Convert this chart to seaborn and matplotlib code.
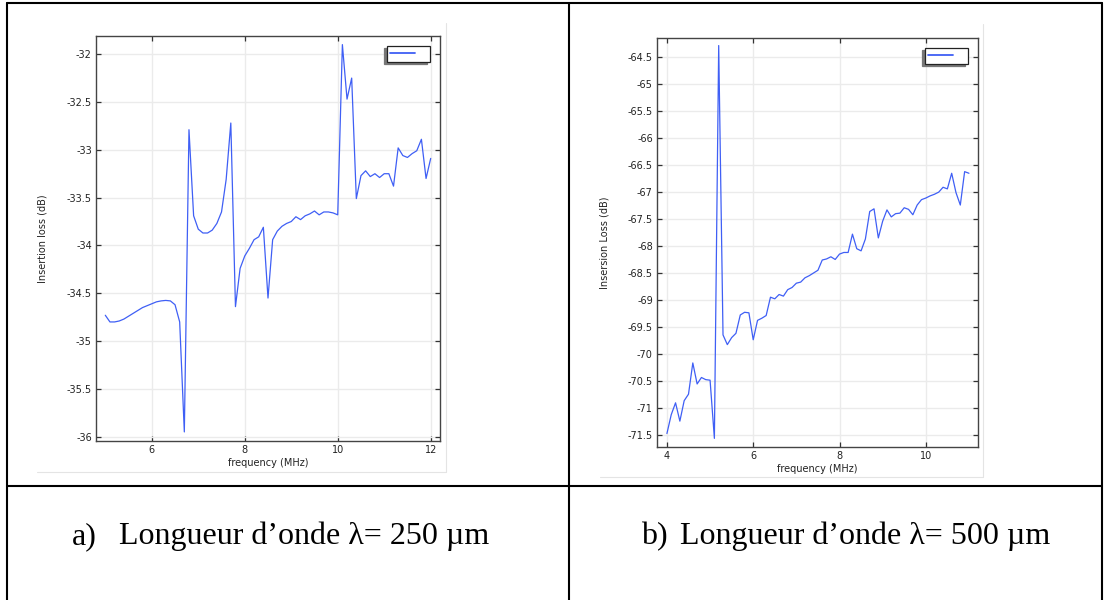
import numpy as np
import pandas as pd
import matplotlib
matplotlib.use("Agg")
import matplotlib.pyplot as plt
from matplotlib.lines import Line2D
from matplotlib.ticker import FuncFormatter, MultipleLocator
import seaborn as sns

# 数据: 左图 λ=250 µm
freq_a = [5.0, 5.1, 5.2, 5.3, 5.4, 5.5, 5.6, 5.7, 5.8, 5.9,
          6.0, 6.1, 6.2, 6.3, 6.4, 6.5, 6.6, 6.7, 6.8, 6.9,
          7.0, 7.1, 7.2, 7.3, 7.4, 7.5, 7.6, 7.7, 7.8, 7.9,
          8.0, 8.1, 8.2, 8.3, 8.4, 8.5, 8.6, 8.7, 8.8, 8.9,
          9.0, 9.1, 9.2, 9.3, 9.4, 9.5, 9.6, 9.7, 9.8, 9.9,
          10.0, 10.1, 10.2, 10.3, 10.4, 10.5, 10.6, 10.7, 10.8, 10.9,
          11.0, 11.1, 11.2, 11.3, 11.4, 11.5, 11.6, 11.7, 11.8, 11.9, 12.0]
loss_a = [-34.73, -34.80, -34.80, -34.79, -34.77, -34.74, -34.71, -34.68, -34.65, -34.63,
          -34.61, -34.59, -34.58, -34.575, -34.58, -34.62, -34.80, -35.95, -32.79, -33.69,
          -33.83, -33.87, -33.87, -33.84, -33.77, -33.65, -33.31, -32.72, -34.64, -34.24,
          -34.11, -34.03, -33.94, -33.91, -33.81, -34.55, -33.94, -33.85, -33.80, -33.77,
          -33.75, -33.70, -33.73, -33.69, -33.67, -33.64, -33.68, -33.65, -33.65, -33.66,
          -33.68, -31.90, -32.47, -32.25, -33.51, -33.27, -33.22, -33.28, -33.25, -33.29,
          -33.25, -33.25, -33.38, -32.98, -33.06, -33.08, -33.04, -33.01, -32.89, -33.30, -33.09]

# 数据: 右图 λ=500 µm
freq_b = [4.0, 4.1, 4.2, 4.3, 4.4, 4.5, 4.6, 4.7, 4.8, 4.9,
          5.0, 5.1, 5.2, 5.3, 5.4, 5.5, 5.6, 5.7, 5.8, 5.9,
          6.0, 6.1, 6.2, 6.3, 6.4, 6.5, 6.6, 6.7, 6.8, 6.9,
          7.0, 7.1, 7.2, 7.3, 7.4, 7.5, 7.6, 7.7, 7.8, 7.9,
          8.0, 8.1, 8.2, 8.3, 8.4, 8.5, 8.6, 8.7, 8.8, 8.9,
          9.0, 9.1, 9.2, 9.3, 9.4, 9.5, 9.6, 9.7, 9.8, 9.9,
          10.0, 10.1, 10.2, 10.3, 10.4, 10.5, 10.6, 10.7, 10.8, 10.9, 11.0]
loss_b = [-71.48, -71.13, -70.91, -71.25, -70.87, -70.75, -70.17, -70.56, -70.44, -70.48,
          -70.49, -71.57, -64.28, -69.65, -69.83, -69.70, -69.62, -69.28, -69.23, -69.24,
          -69.74, -69.38, -69.34, -69.29, -68.95, -68.98, -68.90, -68.93, -68.81, -68.77,
          -68.69, -68.67, -68.59, -68.55, -68.50, -68.45, -68.26, -68.24, -68.20, -68.25,
          -68.15, -68.12, -68.12, -67.78, -68.05, -68.09, -67.87, -67.36, -67.31, -67.85,
          -67.54, -67.33, -67.46, -67.40, -67.39, -67.29, -67.32, -67.42, -67.24, -67.14,
          -67.11, -67.07, -67.04, -67.00, -66.91, -66.94, -66.65, -67.01, -67.24, -66.62, -66.65]

captions = [("a)", "Longueur d\u2019onde \u03bb= 250 \u00b5m"),
            ("b)", "Longueur d\u2019onde \u03bb= 500 \u00b5m")]

sns.set_style("whitegrid")
plt.rcParams['font.family'] = ['DejaVu Sans']
plt.rcParams['axes.unicode_minus'] = False

LINE_COLOR = '#3f5ff5'
W, H = 1105, 600

fig = plt.figure(figsize=(W / 100, H / 100), dpi=100)
fig.patch.set_facecolor('white')


def px_box(left, top, right, bottom):
    return [left / W, 1 - bottom / H, (right - left) / W, (bottom - top) / H]


def style_axes(ax, ylabel, xlim, ylim, xstep, ylab_x):
    ax.set_xlim(*xlim)
    ax.set_ylim(*ylim)
    ax.xaxis.set_major_locator(MultipleLocator(xstep))
    ax.yaxis.set_major_locator(MultipleLocator(0.5))
    fmt = FuncFormatter(lambda v, p: f"{v:g}")
    ax.xaxis.set_major_formatter(fmt)
    ax.yaxis.set_major_formatter(fmt)
    ax.grid(True, color='#ebebeb', linewidth=1.0)
    for s in ax.spines.values():
        s.set_visible(True)
        s.set_color('#444444')
        s.set_linewidth(1.0)
    ax.tick_params(direction='in', length=3.5, width=0.9, color='#333333',
                   labelsize=7, labelcolor='#222222', pad=3,
                   top=True, right=True, bottom=True, left=True)
    ax.set_xlabel('frequency (MHz)', fontsize=7, color='#222222')
    ax.set_ylabel(ylabel, fontsize=7, color='#222222')
    ax.xaxis.set_label_coords(0.5, -0.042)
    ax.yaxis.set_label_coords(ylab_x, 0.5)
    leg = ax.legend(loc='upper right', fontsize=7, frameon=True, fancybox=False,
                    edgecolor='#222222', framealpha=1, borderaxespad=1.0,
                    borderpad=0.3, handlelength=2.6, handletextpad=0.9,
                    shadow={'ox': -2.2, 'oy': -1.7, 'color': '#777777', 'alpha': 1})
    leg.get_frame().set_linewidth(0.9)
    for h in leg.get_lines():
        h.set_color(LINE_COLOR)
        h.set_linewidth(1.3)


# 左图
ax1 = fig.add_axes(px_box(96, 36, 440, 441))
df_a = pd.DataFrame({'freq': freq_a, 'loss': loss_a})
sns.lineplot(data=df_a, x='freq', y='loss', ax=ax1, color=LINE_COLOR,
             linewidth=0.9, label=' ')
style_axes(ax1, 'Insertion loss (dB)', (4.80, 12.2), (-36.045, -31.81), 2, -0.142)

# 右图
ax2 = fig.add_axes(px_box(657, 38, 978, 447))
df_b = pd.DataFrame({'freq': freq_b, 'loss': loss_b})
sns.lineplot(data=df_b, x='freq', y='loss', ax=ax2, color=LINE_COLOR,
             linewidth=0.9, label=' ')
style_axes(ax2, 'Insersion Loss (dB)', (3.77, 11.21), (-71.73, -64.14), 2, -0.147)

# 图片边框 (浅灰)
def add_line(x0, y0, x1, y1, color, lw):
    fig.add_artist(Line2D([x0 / W, x1 / W], [1 - y0 / H, 1 - y1 / H],
                          color=color, linewidth=lw, transform=fig.transFigure))

add_line(446, 23, 446, 472, '#e4e4e4', 0.8)
add_line(37, 472, 446, 472, '#e4e4e4', 0.8)
add_line(983, 24, 983, 477, '#e4e4e4', 0.8)
add_line(600, 477, 983, 477, '#e4e4e4', 0.8)

# 表格线
add_line(7, 3, 1102, 3, 'black', 1.5)
add_line(7, 3, 7, 600, 'black', 1.5)
add_line(569, 3, 569, 600, 'black', 1.5)
add_line(1102, 3, 1102, 600, 'black', 1.5)
add_line(7, 486, 1102, 486, 'black', 1.5)

# 标题说明
base_y = 1 - 544.3 / H
for (tag, body), (x_tag, x_body) in zip(captions, [(71.7, 119), (641, 680)]):
    fig.text(x_tag / W, base_y, tag, family='Liberation Serif', fontsize=23,
             color='black', ha='left', va='baseline')
    fig.text(x_body / W, base_y, body, family='Liberation Serif', fontsize=23,
             color='black', ha='left', va='baseline')

fig.savefig('out.png', dpi=100)
